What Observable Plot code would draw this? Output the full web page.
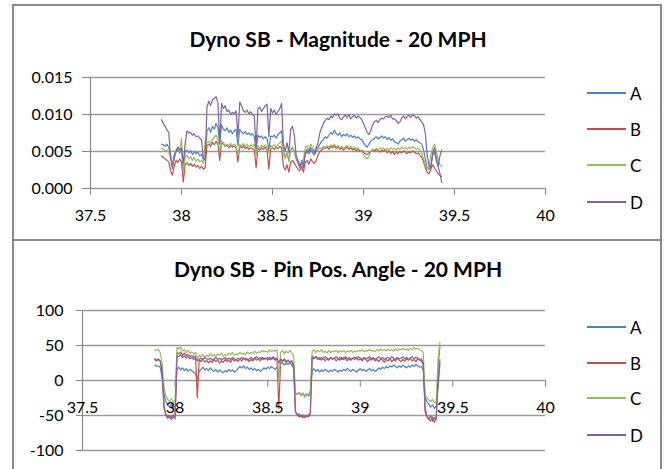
<!DOCTYPE html>
<html><head><meta charset="utf-8">
<script src="https://cdn.jsdelivr.net/npm/d3@7"></script>
<script src="https://cdn.jsdelivr.net/npm/@observablehq/plot@0.6"></script>
<style>
html,body{margin:0;padding:0;background:#fff}
body{width:665px;height:469px;overflow:hidden;position:relative;font-family:Lato,"Open Sans",sans-serif;color:#000}
.frame{position:absolute;border:2px solid #8a8a8a;box-sizing:border-box;pointer-events:none}
.title{position:absolute;left:0;width:676px;text-align:center;font-weight:bold;font-size:21px;line-height:24px;white-space:nowrap}
.legend{position:absolute;left:587px;font-size:17px}
.item{position:absolute;left:0;height:20px;display:flex;align-items:center;white-space:nowrap}
.sw{display:inline-block;width:39px;height:1.5px;margin-right:4px}
.chart{position:absolute;left:0}
</style></head><body>
<div id="c1" class="chart" style="top:0"></div>
<div id="c2" class="chart" style="top:240px"></div>
<div class="frame" style="left:12px;top:4px;width:650px;height:237px"></div>
<div class="frame" style="left:12px;top:239px;width:650px;height:240px"></div>
<div class="title" style="top:27px">Dyno SB - Magnitude - 20 MPH</div>
<div class="title" style="top:257px">Dyno SB - Pin Pos. Angle - 20 MPH</div>
<div id="leg1" class="legend" style="top:0"></div>
<div id="leg2" class="legend" style="top:0"></div>
<script>
// ---- data ----
const seriesNames = ["A", "B", "C", "D"];
const seriesColors = ["#4f81bd", "#c0504d", "#9bbb59", "#8064a2"];
const xTicks = [37.5, 38, 38.5, 39, 39.5, 40];
const magTicks = [0, 0.005, 0.010, 0.015];
const angTicks = [-100, -50, 0, 50, 100];

const dist = [
37.89,37.90,37.91,37.92,37.93,37.94,37.95,37.96,37.97,37.98,
37.99,38.00,38.01,38.02,38.03,38.04,38.05,38.06,38.07,38.08,
38.09,38.10,38.11,38.12,38.13,38.14,38.15,38.16,38.17,38.18,
38.19,38.20,38.21,38.22,38.23,38.24,38.25,38.26,38.27,38.28,
38.29,38.30,38.31,38.32,38.33,38.34,38.35,38.36,38.37,38.38,
38.39,38.40,38.41,38.42,38.43,38.44,38.45,38.46,38.47,38.48,
38.49,38.50,38.51,38.52,38.53,38.54,38.55,38.56,38.57,38.58,
38.59,38.60,38.61,38.62,38.63,38.64,38.65,38.66,38.67,38.68,
38.69,38.70,38.71,38.72,38.73,38.74,38.75,38.76,38.77,38.78,
38.79,38.80,38.81,38.82,38.83,38.84,38.85,38.86,38.87,38.88,
38.89,38.90,38.91,38.92,38.93,38.94,38.95,38.96,38.97,38.98,
38.99,39.00,39.01,39.02,39.03,39.04,39.05,39.06,39.07,39.08,
39.09,39.10,39.11,39.12,39.13,39.14,39.15,39.16,39.17,39.18,
39.19,39.20,39.21,39.22,39.23,39.24,39.25,39.26,39.27,39.28,
39.29,39.30,39.31,39.32,39.33,39.34,39.35,39.36,39.37,39.38,
39.39,39.40,39.41,39.42,39.43];

const magA = [
.0060,.0059,.0057,.0060,.0055,.0045,.0030,.0040,.0050,.0052,
.0048,.0054,.0025,.0050,.0052,.0048,.0051,.0046,.0050,.0047,
.0049,.0044,.0046,.0040,.0042,.0078,.0082,.0076,.0084,.0080,
.0088,.0082,.0060,.0086,.0080,.0078,.0082,.0076,.0079,.0074,
.0078,.0080,.0058,.0080,.0076,.0074,.0077,.0073,.0075,.0072,
.0074,.0070,.0052,.0072,.0069,.0071,.0067,.0070,.0068,.0052,
.0071,.0070,.0072,.0068,.0073,.0075,.0078,.0050,.0042,.0048,
.0038,.0052,.0055,.0050,.0040,.0034,.0028,.0038,.0032,.0046,
.0050,.0047,.0052,.0048,.0045,.0050,.0055,.0060,.0064,.0066,
.0070,.0068,.0072,.0076,.0073,.0079,.0074,.0072,.0075,.0070,
.0073,.0071,.0074,.0070,.0072,.0069,.0071,.0068,.0070,.0067,
.0066,.0062,.0058,.0056,.0060,.0064,.0066,.0068,.0070,.0067,
.0069,.0071,.0068,.0070,.0066,.0069,.0065,.0067,.0063,.0062,
.0060,.0064,.0066,.0068,.0064,.0066,.0068,.0065,.0067,.0064,
.0066,.0063,.0062,.0060,.0052,.0040,.0028,.0026,.0030,.0045,
.0050,.0038,.0030,.0020,.0008];

const magB = [
.0044,.0042,.0040,.0038,.0036,.0024,.0018,.0030,.0038,.0035,
.0040,.0036,.0009,.0032,.0035,.0031,.0034,.0030,.0033,.0029,
.0031,.0027,.0030,.0026,.0028,.0058,.0060,.0057,.0062,.0059,
.0064,.0060,.0038,.0062,.0060,.0057,.0059,.0055,.0058,.0056,
.0057,.0055,.0036,.0057,.0055,.0058,.0054,.0056,.0053,.0055,
.0054,.0052,.0028,.0054,.0052,.0055,.0053,.0056,.0052,.0026,
.0054,.0055,.0053,.0056,.0054,.0057,.0055,.0030,.0025,.0032,
.0022,.0036,.0038,.0034,.0030,.0026,.0024,.0030,.0022,.0035,
.0038,.0033,.0040,.0036,.0034,.0038,.0045,.0050,.0052,.0055,
.0054,.0056,.0053,.0057,.0055,.0058,.0054,.0056,.0053,.0055,
.0052,.0054,.0056,.0053,.0055,.0052,.0054,.0051,.0053,.0050,
.0052,.0049,.0047,.0046,.0048,.0050,.0052,.0050,.0053,.0051,
.0049,.0052,.0050,.0053,.0048,.0051,.0047,.0050,.0046,.0049,
.0047,.0050,.0048,.0051,.0049,.0047,.0050,.0048,.0051,.0049,
.0047,.0048,.0045,.0042,.0036,.0028,.0022,.0020,.0026,.0032,
.0028,.0024,.0020,.0018,.0016];

const magC = [
.0055,.0053,.0051,.0052,.0050,.0040,.0033,.0045,.0052,.0056,
.0050,.0068,.0022,.0042,.0045,.0040,.0043,.0038,.0042,.0037,
.0040,.0036,.0038,.0034,.0066,.0062,.0064,.0060,.0066,.0070,
.0072,.0066,.0050,.0064,.0062,.0058,.0060,.0057,.0061,.0058,
.0060,.0057,.0045,.0060,.0058,.0061,.0057,.0060,.0056,.0059,
.0057,.0060,.0045,.0058,.0055,.0058,.0056,.0059,.0055,.0048,
.0058,.0057,.0059,.0056,.0060,.0062,.0064,.0048,.0040,.0050,
.0036,.0052,.0056,.0050,.0042,.0036,.0030,.0035,.0040,.0055,
.0058,.0052,.0060,.0055,.0050,.0056,.0052,.0055,.0054,.0057,
.0055,.0058,.0056,.0059,.0057,.0060,.0056,.0058,.0055,.0057,
.0054,.0056,.0058,.0055,.0057,.0054,.0056,.0053,.0055,.0052,
.0050,.0046,.0042,.0040,.0044,.0050,.0053,.0052,.0054,.0052,
.0055,.0053,.0055,.0052,.0054,.0052,.0055,.0053,.0054,.0052,
.0055,.0053,.0056,.0054,.0055,.0053,.0056,.0054,.0057,.0055,
.0053,.0054,.0052,.0048,.0040,.0032,.0026,.0028,.0045,.0055,
.0060,.0050,.0040,.0032,.0030];

const magD = [
.0093,.0088,.0084,.0079,.0076,.0042,.0027,.0045,.0050,.0056,
.0052,.0055,.0035,.0060,.0078,.0075,.0076,.0072,.0074,.0070,
.0071,.0068,.0066,.0040,.0038,.0110,.0118,.0112,.0120,.0122,
.0124,.0116,.0062,.0115,.0108,.0112,.0104,.0106,.0100,.0103,
.0101,.0105,.0070,.0117,.0112,.0105,.0103,.0106,.0101,.0104,
.0100,.0098,.0055,.0108,.0110,.0104,.0108,.0112,.0114,.0070,
.0108,.0102,.0106,.0100,.0104,.0108,.0115,.0060,.0050,.0062,
.0048,.0080,.0084,.0072,.0045,.0038,.0030,.0035,.0028,.0048,
.0053,.0050,.0055,.0052,.0048,.0054,.0062,.0075,.0082,.0088,
.0092,.0095,.0093,.0098,.0096,.0101,.0099,.0101,.0095,.0093,
.0097,.0099,.0096,.0100,.0094,.0097,.0099,.0095,.0098,.0096,
.0093,.0088,.0082,.0076,.0073,.0078,.0086,.0090,.0092,.0089,
.0093,.0095,.0094,.0097,.0098,.0096,.0099,.0094,.0094,.0092,
.0088,.0090,.0095,.0098,.0094,.0097,.0099,.0096,.0100,.0098,
.0095,.0097,.0093,.0090,.0086,.0074,.0045,.0032,.0028,.0048,
.0055,.0042,.0030,.0044,.0052];

const angA = [
22,20,21,18,5,-20,-30,-35,-38,-33,
-40,-36,16,19,15,18,14,17,13,16,
14,12,10,2,13,16,19,15,17,14,
18,15,13,16,12,15,13,11,14,12,
16,13,15,12,14,17,20,18,21,17,
19,16,18,15,17,14,16,13,15,18,
16,19,17,20,18,16,19,10,24,26,
22,25,23,26,22,18,-18,-20,-17,-21,
-18,-22,-19,-21,-16,14,17,13,16,12,
15,13,16,14,12,15,13,16,14,12,
15,13,16,14,17,15,13,16,14,12,
15,17,14,16,13,15,17,14,16,13,
15,18,16,19,17,20,18,21,19,22,
20,18,21,19,22,20,18,21,19,22,
20,23,21,19,20,15,-25,-30,-34,-38,
-35,-40,-36,-10,25];

const angB = [
30,28,31,27,10,-40,-48,-52,-50,-53,
-49,-51,40,38,41,36,39,35,37,34,
36,33,35,-25,30,27,31,26,29,25,
28,26,30,27,29,25,28,26,30,27,
29,26,31,28,30,27,31,28,32,29,
31,27,30,28,32,29,31,28,33,30,
32,29,33,30,32,29,31,-40,30,27,
31,26,29,25,28,20,-45,-48,-52,-49,
-53,-50,-52,-49,-47,35,32,34,30,33,
29,32,28,31,29,33,30,32,28,31,
29,33,30,32,28,31,29,32,30,33,
29,31,28,32,30,27,31,29,32,28,
30,27,31,29,26,30,28,31,27,30,
28,32,29,27,30,28,31,29,32,28,
30,27,31,29,28,22,-45,-52,-56,-50,
-58,-53,-55,20,50];

const angC = [
44,43,44,40,25,-10,-22,-27,-30,-26,
-31,-28,47,45,48,42,44,40,43,39,
41,38,40,30,36,34,37,33,36,34,
38,35,37,34,38,36,39,35,37,36,
39,37,40,36,38,37,40,38,39,37,
41,38,40,39,42,39,41,40,43,41,
42,40,44,41,43,42,44,0,40,43,
38,42,39,43,40,36,-18,-20,-17,-22,
-19,-24,-20,-23,-18,42,44,40,43,41,
44,40,42,39,43,40,42,41,43,40,
42,41,43,40,42,41,43,40,42,41,
43,42,44,41,43,42,44,42,43,41,
44,42,45,43,44,42,45,43,44,42,
45,43,45,44,46,44,45,43,46,44,
47,45,46,44,43,40,-20,-25,-28,-30,
-27,-32,-30,30,55];

const angD = [
31,29,30,28,15,-35,-50,-54,-52,-56,
-51,-55,35,34,37,33,35,32,34,31,
33,30,32,28,30,32,29,33,31,30,
32,29,31,33,30,32,29,31,33,30,
32,30,33,31,29,32,30,33,31,32,
29,31,33,30,32,34,31,33,30,32,
31,33,30,32,34,31,32,25,31,28,
30,27,29,26,28,22,-44,-50,-48,-52,
-49,-53,-50,-52,-48,33,31,34,32,30,
33,31,34,32,30,33,31,32,34,31,
33,30,32,34,31,33,30,32,33,31,
34,32,30,33,31,32,34,31,33,30,
32,34,31,33,30,32,33,31,34,32,
30,33,31,32,34,31,33,30,32,34,
31,33,32,30,31,25,-40,-50,-55,-58,
-52,-60,-54,0,30];

const magSeries = [magA, magB, magC, magD];
const angSeries = [angA, angB, angC, angD];

// ---- charts ----
const GRID = "#9a9a9a";
const AX = "#8a8a8a";
function lines(seriesList) {
  return seriesList.map((vals, k) =>
    Plot.line(vals, {x: dist, y: d => d, stroke: seriesColors[k], strokeWidth: 1.2}));
}

const chartTop = Plot.plot({
  width: 665, height: 240,
  marginLeft: 90, marginRight: 120, marginTop: 77, marginBottom: 52,
  style: {background: "transparent", fontFamily: "Lato, 'Open Sans', sans-serif", fontSize: "16px", color: "#000", overflow: "visible"},
  x: {domain: [37.5, 40], label: null},
  y: {domain: [0, 0.015], label: null},
  marks: [
    Plot.gridY(magTicks, {stroke: GRID, strokeOpacity: 1, strokeWidth: 1.3}),
    Plot.ruleX([37.5], {stroke: AX, strokeWidth: 1.2}),
    Plot.axisY(magTicks, {anchor: "left", tickSize: 8, tickPadding: 10, stroke: AX, fill: "#000", tickFormat: d3.format(".3f")}),
    Plot.axisX(xTicks, {anchor: "bottom", tickSize: 7, tickPadding: 14, stroke: AX, fill: "#000", tickFormat: d => String(d)}),
    ...lines(magSeries)
  ]
});
document.getElementById("c1").appendChild(chartTop);

const chartBottom = Plot.plot({
  width: 665, height: 229,
  marginLeft: 82, marginRight: 120, marginTop: 70, marginBottom: 19,
  style: {background: "transparent", fontFamily: "Lato, 'Open Sans', sans-serif", fontSize: "16px", color: "#000", overflow: "visible"},
  x: {domain: [37.5, 40], label: null},
  y: {domain: [-100, 100], label: null},
  marks: [
    Plot.gridY(angTicks, {stroke: GRID, strokeOpacity: 1, strokeWidth: 1.3}),
    Plot.ruleX([37.5], {stroke: AX, strokeWidth: 1.2}),
    Plot.axisY(angTicks, {anchor: "left", tickSize: 6, tickPadding: 13, stroke: AX, fill: "#000", tickFormat: d => String(d)}),
    ...lines(angSeries),
    Plot.axisX(xTicks, {anchor: "bottom", dy: -70, tickSize: 7, tickPadding: 14, stroke: AX, fill: "#000", tickFormat: d => String(d)})
  ]
});
document.getElementById("c2").appendChild(chartBottom);

// ---- legends ----
function legend(id, ys) {
  const el = document.getElementById(id);
  seriesNames.forEach((n, k) => {
    const it = document.createElement("div");
    it.className = "item";
    it.style.top = (ys[k] - 10) + "px";
    it.innerHTML = `<span class="sw" style="background:${seriesColors[k]}"></span><span>${n}</span>`;
    el.appendChild(it);
  });
}
legend("leg1", [93, 129, 165, 202]);
legend("leg2", [327, 363, 398, 435]);
</script>
</body></html>
